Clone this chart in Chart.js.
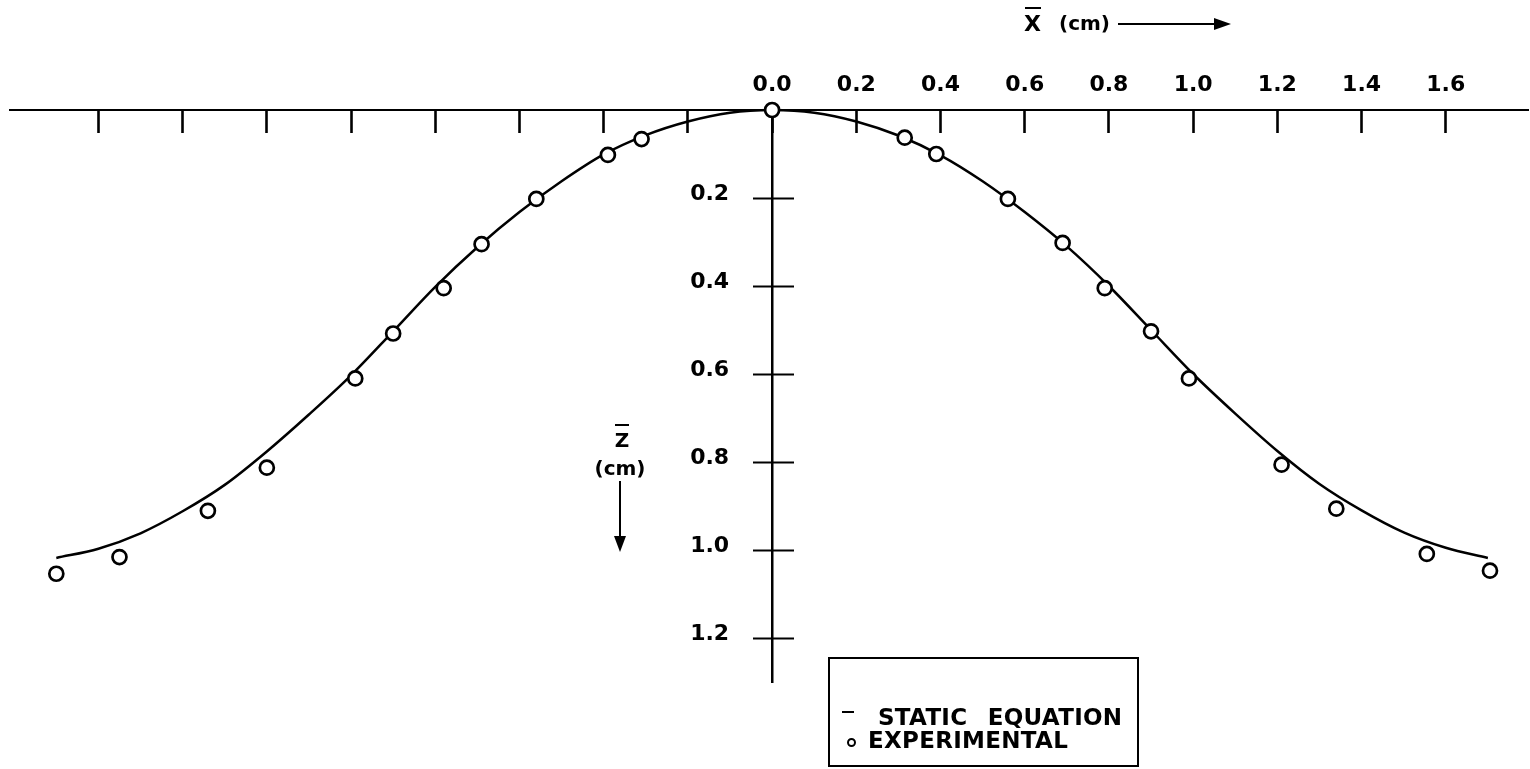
<!DOCTYPE html>
<html lang="en">
<head>
    <meta charset="UTF-8">
    <title>Surface profile: static equation vs experimental</title>
    <style>
        html, body { margin: 0; background: #fff; overflow: hidden; }
        #wrap { position: relative; width: 1538px; height: 769px; font-family: "DejaVu Sans", sans-serif; font-weight: bold; color: #000; }
        #wrap canvas { position: absolute; left: 0; top: 0; }
        .txt { position: absolute; white-space: nowrap; line-height: 1; }
        .bar { position: absolute; background: #000; }
        .head-r { position: absolute; width: 0; height: 0; border-left: 17px solid #000; border-top: 6px solid transparent; border-bottom: 6px solid transparent; }
        .head-d { position: absolute; width: 0; height: 0; border-top: 16px solid #000; border-left: 6px solid transparent; border-right: 6px solid transparent; }
        #legend { position: absolute; left: 828px; top: 657px; width: 307px; height: 59px; padding-top: 47px; border: 2px solid #000; }
        #legend .row { height: 23px; line-height: 23px; font-size: 23px; word-spacing: 12px; letter-spacing: 0.3px; white-space: nowrap; }
        #legend .mk-line { display: inline-block; vertical-align: top; width: 12px; height: 2px; margin: 5px 24px 0 12px; background: #000; }
        #legend .mk-dot { display: inline-block; vertical-align: top; width: 5px; height: 5px; margin: 9px 12px 0 17px; border: 2px solid #000; border-radius: 50%; }
    </style>
</head>
<body>
<div id="wrap">
    <canvas id="profile_canvas"></canvas>

    <!-- x axis title with arrow -->
    <div class="bar" style="left:1025px; top:7px; width:16px; height:2px;"></div>
    <div class="txt" style="left:1024px; top:13px; font-size:22px;">X</div>
    <div class="txt" style="left:1059px; top:13px; font-size:20px;">(cm)</div>
    <div class="bar" style="left:1118px; top:23px; width:98px; height:2px;"></div>
    <div class="head-r" style="left:1214px; top:18px;"></div>

    <!-- z axis title with arrow -->
    <div class="bar" style="left:615px; top:424px; width:14px; height:2px;"></div>
    <div class="txt" style="left:597px; top:430px; width:50px; text-align:center; font-size:20px;">Z</div>
    <div class="txt" style="left:570px; top:458px; width:100px; text-align:center; font-size:20px;">(cm)</div>
    <div class="bar" style="left:619px; top:481px; width:2px; height:57px;"></div>
    <div class="head-d" style="left:614px; top:536px;"></div>

    <div id="legend"></div>
</div>
<!--suppress JSUnresolvedLibraryURL -->
<script src="https://cdn.jsdelivr.net/npm/chart.js@4.4.1/dist/chart.umd.min.js"></script>
<script>
    // static-equation curve (x and depth z in cm)
    const curveX = [-1.7, -1.6, -1.5, -1.4, -1.3, -1.2, -1.1, -1.0, -0.9, -0.8, -0.7, -0.6, -0.5, -0.4, -0.3, -0.2, -0.1, 0.0,
                    0.1, 0.2, 0.3, 0.4, 0.5, 0.6, 0.7, 0.8, 0.9, 1.0, 1.1, 1.2, 1.3, 1.4, 1.5, 1.6, 1.7];
    const curveZ = [1.018, 0.997, 0.962, 0.912, 0.852, 0.776, 0.692, 0.603, 0.503, 0.402, 0.312, 0.232, 0.162, 0.101, 0.057, 0.026, 0.006, 0.000,
                    0.006, 0.026, 0.058, 0.103, 0.162, 0.232, 0.310, 0.400, 0.500, 0.600, 0.690, 0.775, 0.850, 0.910, 0.960, 0.995, 1.018];

    // measured points
    const expX = [-1.70, -1.55, -1.34, -1.20, -0.99, -0.90, -0.78, -0.69, -0.56, -0.39, -0.31, 0.00,
                  0.315, 0.39, 0.56, 0.69, 0.79, 0.90, 0.99, 1.21, 1.34, 1.555, 1.705];
    const expZ = [1.054, 1.016, 0.911, 0.813, 0.610, 0.508, 0.405, 0.305, 0.202, 0.102, 0.066, 0.000,
                  0.063, 0.100, 0.202, 0.302, 0.405, 0.503, 0.610, 0.806, 0.906, 1.009, 1.047];

    const seriesLabels = ['STATIC EQUATION', 'EXPERIMENTAL'];

    const X_MIN = -1.81, X_MAX = 1.796, Z_MAX = 1.30, STEP = 0.2;

    const toPoints = (xs, zs) => xs.map((x, i) => ({x: x, y: zs[i]}));

    Chart.defaults.font.family = '"DejaVu Sans", sans-serif';
    Chart.defaults.color = '#000';

    const tickFont = {size: 22, weight: 'bold'};
    const hidden = 'rgba(0,0,0,0)';

    const config = {
        data: {
            datasets: [
                {
                    type: 'line',
                    label: seriesLabels[0],
                    data: toPoints(curveX, curveZ),
                    borderColor: '#000',
                    borderWidth: 2.5,
                    pointRadius: 0,
                    fill: false,
                    cubicInterpolationMode: 'monotone',
                    clip: false,
                    order: 2,
                    xAxisID: 'x',
                    yAxisID: 'y'
                },
                {
                    type: 'scatter',
                    label: seriesLabels[1],
                    data: toPoints(expX, expZ),
                    pointStyle: 'circle',
                    pointRadius: 7,
                    pointBorderWidth: 2.7,
                    pointBorderColor: '#000',
                    pointBackgroundColor: '#fff',
                    clip: false,
                    order: 1,
                    xAxisID: 'x',
                    yAxisID: 'y'
                }
            ]
        },
        options: {
            responsive: true,
            maintainAspectRatio: false,
            animation: false,
            events: [],
            layout: {padding: {left: 10, right: 0, top: 110, bottom: 87}},
            plugins: {
                legend: {display: false},
                tooltip: {enabled: false}
            },
            scales: {
                // horizontal axis line with downward ticks
                x: {
                    type: 'linear', axis: 'x', min: X_MIN, max: X_MAX,
                    position: {y: 0},
                    border: {display: true, color: '#000', width: 2},
                    grid: {
                        drawOnChartArea: false, tickLength: 22, tickWidth: 2.6,
                        tickColor: (ctx) => (ctx.tick && ctx.tick.value < -1.7) ? hidden : '#000'
                    },
                    ticks: {display: false, stepSize: STEP, includeBounds: false}
                },
                // numbers above the horizontal axis (positive side only)
                xLabels: {
                    type: 'linear', axis: 'x', min: X_MIN, max: X_MAX,
                    position: {y: -0.086},
                    border: {display: false},
                    grid: {display: false, drawTicks: false},
                    ticks: {
                        stepSize: STEP, includeBounds: false, padding: 0, autoSkip: false, maxRotation: 0,
                        font: tickFont, color: '#000',
                        callback: (v) => v < -0.001 ? '' : v.toFixed(1)
                    }
                },
                // depth axis, pointing down
                y: {
                    type: 'linear', axis: 'y', min: 0, max: Z_MAX, reverse: true,
                    position: {x: 0},
                    border: {display: true, color: '#000', width: 2.5},
                    grid: {
                        drawOnChartArea: false, tickLength: 18, tickWidth: 2,
                        tickColor: (ctx) => (ctx.tick && ctx.tick.value > 0.01) ? '#000' : hidden
                    },
                    ticks: {display: false, stepSize: STEP, includeBounds: false}
                },
                // right half of the depth ticks
                yRight: {
                    type: 'linear', axis: 'y', min: 0, max: Z_MAX, reverse: true,
                    position: {x: 0.052},
                    border: {display: false},
                    grid: {
                        drawOnChartArea: false, tickLength: 22, tickWidth: 2,
                        tickColor: (ctx) => (ctx.tick && ctx.tick.value > 0.01) ? '#000' : hidden
                    },
                    ticks: {display: false, stepSize: STEP, includeBounds: false}
                },
                // depth numbers left of the axis
                zLabels: {
                    type: 'linear', axis: 'y', min: 0, max: Z_MAX, reverse: true,
                    position: {x: -0.102},
                    border: {display: false},
                    grid: {display: false, drawTicks: false},
                    ticks: {
                        stepSize: STEP, includeBounds: false, padding: 0, autoSkip: false,
                        labelOffset: -4, font: tickFont, color: '#000',
                        callback: (v) => v < 0.01 ? '' : v.toFixed(1)
                    }
                }
            }
        }
    };

    const ctx = document.getElementById('profile_canvas').getContext('2d');
    const chart = new Chart(ctx, config);

    // boxed legend built from the datasets
    const legendBox = document.getElementById('legend');
    chart.data.datasets.forEach(function (ds) {
        const row = document.createElement('div');
        row.className = 'row';
        const mark = document.createElement('span');
        mark.className = ds.type === 'line' ? 'mk-line' : 'mk-dot';
        row.appendChild(mark);
        row.appendChild(document.createTextNode(ds.label));
        legendBox.appendChild(row);
    });
</script>
</body>
</html>
